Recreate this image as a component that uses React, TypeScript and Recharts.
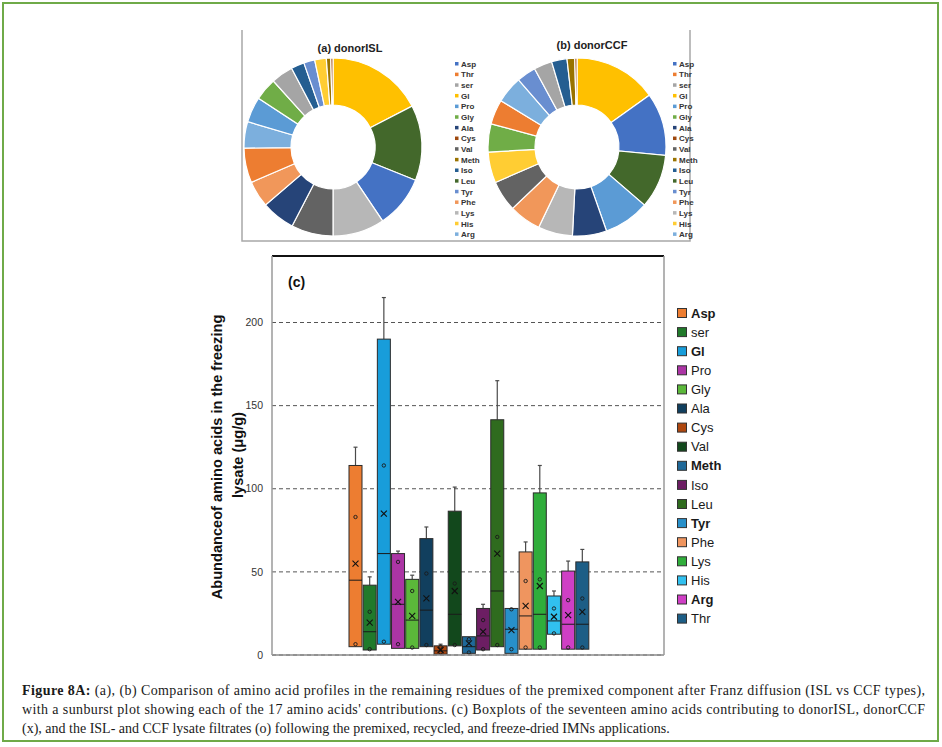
import React from 'react';
import {
  PieChart, Pie, Cell, ComposedChart, Bar, XAxis, YAxis, CartesianGrid, ReferenceLine
} from 'recharts';

// doughnut legend order and palette
const donutLegend = ['Asp', 'Thr', 'ser', 'Gl', 'Pro', 'Gly', 'Ala', 'Cys', 'Val', 'Meth', 'Iso', 'Leu', 'Tyr', 'Phe', 'Lys', 'His', 'Arg'];
const donutColors = ['#4472C4', '#ED7D31', '#A5A5A5', '#FFC000', '#5B9BD5', '#70AD47', '#264478', '#9E480E', '#636363', '#997300', '#255E91', '#43682B', '#698ED0', '#F1975A', '#B7B7B7', '#FFCD33', '#7CAFDD'];

// (a) donorISL - slices clockwise from 12 o'clock, share in %
const islNames = ['Gl', 'Leu', 'Asp', 'Lys', 'Val', 'Ala', 'Phe', 'Thr', 'Arg', 'Pro', 'Gly', 'ser', 'Iso', 'Tyr', 'His', 'Meth', 'Cys'];
const islShare = [17.4, 13.7, 9.5, 9.4, 7.6, 6.1, 4.8, 6.3, 4.8, 4.6, 4.1, 4.0, 2.4, 2.0, 2.1, 0.8, 0.4];

// (b) donorCCF
const ccfNames = ['Gl', 'Asp', 'Leu', 'Pro', 'Ala', 'Lys', 'Phe', 'Val', 'His', 'Gly', 'Thr', 'Arg', 'Tyr', 'ser', 'Iso', 'Meth', 'Cys'];
const ccfShare = [15.1, 11.4, 9.8, 8.3, 6.2, 6.25, 5.8, 5.6, 5.6, 5.1, 4.5, 4.9, 3.5, 3.3, 2.8, 1.4, 0.4];

// (c) boxplots, µg/g
const acids = ['Asp', 'ser', 'Gl', 'Pro', 'Gly', 'Ala', 'Cys', 'Val', 'Meth', 'Iso', 'Leu', 'Tyr', 'Phe', 'Lys', 'His', 'Arg', 'Thr'];
const q1 = [5, 3, 6.5, 4, 4, 5, 0.5, 5.5, 1, 3, 5, 1, 3.5, 3.5, 12.5, 3.5, 3.5];
const median = [45, 14, 61, 30.5, 21, 27, 2.5, 24.5, 5, 11.5, 38.5, 15.5, 23.5, 24.5, 20.5, 18.5, 18.5];
const q3 = [114, 42, 190, 61, 45.5, 70, 5.5, 86.5, 11, 28, 141.5, 28, 62, 97.5, 35.5, 50.5, 56];
const whiskerTop = [125, 47, 215, 62.5, 48, 77, 6.5, 101, 11, 30.5, 165, 28, 68, 114, 38.5, 56.5, 63.5];
const meanX = [55, 19.5, 85, 32, 23.5, 34, 3, 38.5, 7, 14, 61, 15, 29.5, 41.5, 23, 24, 26];
const pointHigh = [83, 26, 114, 56, 38.5, 49, 5, 43, 9.5, 21, 71, 27.5, 44.5, 45.5, 28, 33, 34];
const pointLow = [6.5, 3.5, 8, 6.5, 4.5, 6, 1.5, 6, 1.5, 3.5, 6, 3.5, 4.5, 4.5, 13, 4.5, 4.5];
const boxColors = ['#ED7D31', '#217A2B', '#189DDA', '#AC35A5', '#5BB83A', '#113F5E', '#AE470F', '#12481C', '#1F6898', '#6C1E63', '#2F6B1E', '#2890CA', '#EF955F', '#30AD3B', '#31C0EF', '#CF3FC5', '#1D5E86'];
const boldLegend = ['Asp', 'Gl', 'Meth', 'Tyr', 'Arg'];
const yTicks = [0, 50, 100, 150, 200];

const colorOf = (name: string) => donutColors[donutLegend.indexOf(name)];

const islRows = islNames.map((name, i) => ({ name, value: islShare[i] }));
const ccfRows = ccfNames.map((name, i) => ({ name, value: ccfShare[i] }));
const boxRows = acids.map((name, i) => ({
  name,
  range: [q1[i], whiskerTop[i]],
  q1: q1[i], median: median[i], q3: q3[i], hi: whiskerTop[i],
  mean: meanX[i], pHigh: pointHigh[i], pLow: pointLow[i],
  color: boxColors[i],
}));

// one box, whisker, median, mean cross and two sample circles per amino acid
function BoxGlyph(props: any) {
  const { x, y, width, height, payload } = props;
  const top = Math.min(y, y + height);
  const h = Math.abs(height);
  const lo = payload.q1, hi = payload.hi;
  const py = (v: number) => top + (hi - v) * h / (hi - lo);
  const cx = x + width / 2;
  const my = py(payload.mean);
  return (
    <g>
      {hi > payload.q3 && (
        <g stroke="#4a4a4a" strokeWidth={1.2}>
          <line x1={cx} x2={cx} y1={py(hi)} y2={py(payload.q3)} />
          <line x1={cx - 2} x2={cx + 2} y1={py(hi)} y2={py(hi)} />
        </g>
      )}
      <rect x={x} y={py(payload.q3)} width={width} height={py(payload.q1) - py(payload.q3)}
        fill={payload.color} stroke="#2b2b2b" strokeWidth={1} />
      <line x1={x} x2={x + width} y1={py(payload.median)} y2={py(payload.median)} stroke="#1a1a1a" strokeWidth={1} />
      <circle cx={cx} cy={py(payload.pHigh)} r={1.7} fill="none" stroke="#1a1a1a" strokeWidth={0.9} />
      <circle cx={cx} cy={py(payload.pLow)} r={1.7} fill="none" stroke="#1a1a1a" strokeWidth={0.9} />
      <g stroke="#111" strokeWidth={1.1}>
        <line x1={cx - 3} x2={cx + 3} y1={my - 3} y2={my + 3} />
        <line x1={cx - 3} x2={cx + 3} y1={my + 3} y2={my - 3} />
      </g>
    </g>
  );
}

function Donut({ rows, left, top }: { rows: any[], left: number, top: number }) {
  return (
    <div style={{ position: 'absolute', left, top }}>
      <PieChart width={200} height={200} margin={{ top: 0, right: 0, bottom: 0, left: 0 }}>
        <Pie data={rows} dataKey="value" nameKey="name" cx={100} cy={100}
          innerRadius={42} outerRadius={89} startAngle={90} endAngle={-270}
          stroke="#fff" strokeWidth={1.2} isAnimationActive={false}>
          {rows.map((r) => <Cell key={r.name} fill={colorOf(r.name)} />)}
        </Pie>
      </PieChart>
    </div>
  );
}

const serif = "'Liberation Serif', 'Times New Roman', serif";
const sans = "'Liberation Sans', Arial, sans-serif";

export default function App() {
  return (
    <div style={{ position: 'absolute', left: 0, top: 0, width: 942, height: 747, background: '#fff', fontFamily: sans }}>
      <Donut rows={islRows} left={233} top={47} />
      <Donut rows={ccfRows} left={477} top={47} />

      <div style={{ position: 'absolute', left: 200, top: 240 }}>
        <ComposedChart width={545} height={430} data={boxRows}
          margin={{ top: 16, right: 80, bottom: 14, left: 0 }}>
          <CartesianGrid vertical={false} stroke="#555" strokeDasharray="4 3" />
          <XAxis dataKey="name" tick={false} tickLine={false} height={1} stroke="#8a8a8a"
            padding={{ left: 76, right: 75 }} axisLine={{ stroke: '#8a8a8a', strokeWidth: 1.5 }} />
          <YAxis domain={[0, 240]} ticks={yTicks} width={72} tickLine={false} tickMargin={3} stroke="#9a9a9a"
            axisLine={{ stroke: '#9a9a9a', strokeWidth: 1.5 }}
            tick={{ fontSize: 10.5, fill: '#333', fontFamily: sans }} />
          <YAxis yAxisId="right" orientation="right" domain={[0, 240]} width={1} stroke="#9a9a9a"
            tick={false} tickLine={false} axisLine={{ stroke: '#9a9a9a', strokeWidth: 1.5 }} />
          <ReferenceLine y={240} stroke="#111" strokeWidth={2} />
          <Bar dataKey="range" barSize={13} shape={(p: any) => <BoxGlyph {...p} />} isAnimationActive={false} />
        </ComposedChart>
      </div>

      <svg width={942} height={747} style={{ position: 'absolute', left: 0, top: 0, pointerEvents: 'none' }}>
        <rect x={3} y={3} width={935} height={738} fill="none" stroke="#6FAA48" strokeWidth={2} />

        {/* doughnut panel frame */}
        <g stroke="#a8a8a8" strokeWidth={1.5} fill="none">
          <polyline points="242,30 242,241 690,241 690,30" />
        </g>
        <text x={350} y={52} textAnchor="middle" fontSize={11} fontWeight="bold" fill="#222">(a) donorISL</text>
        <text x={592} y={49} textAnchor="middle" fontSize={11} fontWeight="bold" fill="#222">(b) donorCCF</text>
        {[455, 673].map((lx) => (
          <g key={lx}>
            {donutLegend.map((name, i) => (
              <g key={name}>
                <rect x={lx} y={64 + i * 10.65 - 2} width={3.5} height={3.5} fill={donutColors[i]} />
                <text x={lx + 6} y={64 + i * 10.65 + 2.8} fontSize={8} fontWeight="bold" fill="#333">{name}</text>
              </g>
            ))}
          </g>
        ))}

        {/* boxplot titles */}
        <text x={288} y={287} fontSize={14} fontWeight="bold" fill="#111">(c)</text>
        <text transform="translate(222,457) rotate(-90)" textAnchor="middle" fontSize={14.6} fontWeight="bold" fill="#111">
          Abundanceof amino acids in the freezing
        </text>
        <text transform="translate(243,455) rotate(-90)" textAnchor="middle" fontSize={14.6} fontWeight="bold" fill="#111">
          lysate (μg/g)
        </text>
        {acids.map((name, i) => (
          <g key={name}>
            <rect x={677.5} y={313 + i * 19.1 - 4.5} width={9} height={9} fill={boxColors[i]} stroke="#333" strokeWidth={1} />
            <text x={691} y={313 + i * 19.1 + 4.6} fontSize={13} fill="#1a1a1a"
              fontWeight={boldLegend.includes(name) ? 'bold' : 'normal'}>{name}</text>
          </g>
        ))}

        {/* caption */}
        <g fontFamily={serif} fontSize={14} fill="#1a1a1a">
          <text x={22} y={695} textLength={903} lengthAdjust="spacing">
            <tspan fontWeight="bold">Figure 8A:</tspan> (a), (b) Comparison of amino acid profiles in the remaining residues of the premixed component after Franz diffusion (ISL vs CCF types),
          </text>
          <text x={22} y={714} textLength={903} lengthAdjust="spacing">
            with a sunburst plot showing each of the 17 amino acids' contributions. (c) Boxplots of the seventeen amino acids contributing to donorISL, donorCCF
          </text>
          <text x={22} y={733}>
            (x), and the ISL- and CCF lysate filtrates (o) following the premixed, recycled, and freeze-dried IMNs applications.
          </text>
        </g>
      </svg>
    </div>
  );
}
